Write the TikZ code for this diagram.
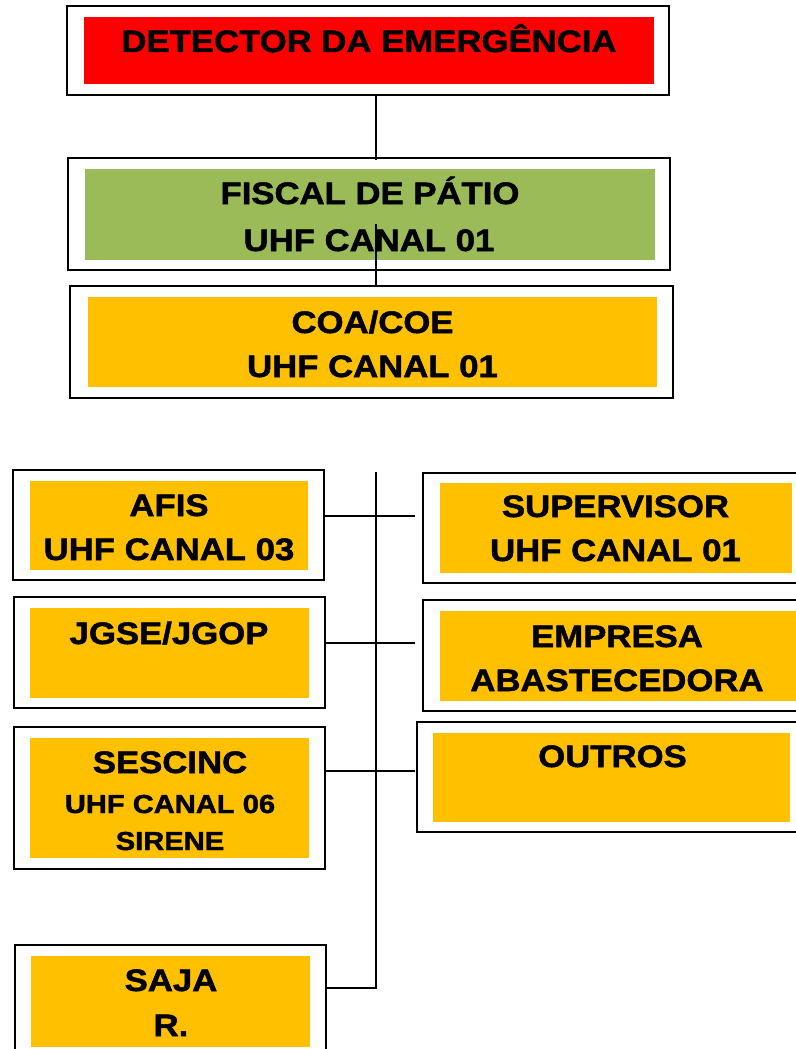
\documentclass[tikz,border=0pt]{standalone}
\usepackage{fontspec}
\newfontfamily\boxfont[FakeStretch=1.12,FakeBold=1.6]{Liberation Sans}
\definecolor{vermelho}{HTML}{FF0000}
\definecolor{verde}{HTML}{9BBB59}
\definecolor{amarelo}{HTML}{FFC000}

\tikzset{
	moldura/.style={draw, line width=2pt, fill=white, inner sep=0pt},
	fundo/.style={inner sep=0pt},
	rotulo/.style={anchor=base, inner sep=0pt, font=\boxfont\bfseries\fontsize{31}{36}\selectfont},
	menor/.style={rotulo, font=\boxfont\bfseries\fontsize{26}{30}\selectfont},
	ligacao/.style={line width=1.8pt},
}

\begin{document}
\begin{tikzpicture}[x=1pt, y=-1pt]
	\useasboundingbox (0,0) rectangle (795,1049);
	% topo
	\node[moldura, minimum width=602pt, minimum height=89pt] (detector) at (368,50.5) {};
	\node[fundo, fill=vermelho, minimum width=570pt, minimum height=67pt] (detectorfundo) at (369,50.5) {};
	\node[rotulo] (detectortexto) at (369,52) {DETECTOR DA EMERGÊNCIA};
	\node[moldura, minimum width=602pt, minimum height=112pt] (fiscal) at (369,214) {};
	\node[fundo, fill=verde, minimum width=570pt, minimum height=91pt] (fiscalfundo) at (370,214.5) {};
	\node[rotulo] (fiscaltexto) at (370,204) {FISCAL DE PÁTIO};
	\node[rotulo] (fiscalcanal) at (369,251) {UHF CANAL 01};
	\node[moldura, minimum width=603pt, minimum height=112pt] (coa) at (371.5,342) {};
	\node[fundo, fill=amarelo, minimum width=569pt, minimum height=90pt] (coafundo) at (372.5,342) {};
	\node[rotulo] (coatexto) at (372.5,333) {COA/COE};
	\node[rotulo] (coacanal) at (372.5,377) {UHF CANAL 01};
	% lado esquerdo
	\node[moldura, minimum width=311pt, minimum height=110pt] (afis) at (168.5,525) {};
	\node[fundo, fill=amarelo, minimum width=278pt, minimum height=89pt] (afisfundo) at (169,525.5) {};
	\node[rotulo] (afistexto) at (169,516) {AFIS};
	\node[rotulo] (afiscanal) at (169,560) {UHF CANAL 03};
	\node[moldura, minimum width=311pt, minimum height=111pt] (jgse) at (169.5,652.5) {};
	\node[fundo, fill=amarelo, minimum width=279pt, minimum height=90pt] (jgsefundo) at (169.5,653) {};
	\node[rotulo] (jgsetexto) at (169,644) {JGSE/JGOP};
	\node[moldura, minimum width=311pt, minimum height=142pt] (sescinc) at (169.5,798) {};
	\node[fundo, fill=amarelo, minimum width=279pt, minimum height=120pt] (sescincfundo) at (169.5,798) {};
	\node[rotulo] (sescinctexto) at (170,773) {SESCINC};
	\node[menor] (sescinccanal) at (170,813) {UHF CANAL 06};
	\node[menor] (sescincsirene) at (170,850) {SIRENE};
	\node[moldura, minimum width=311pt, minimum height=120pt] (saja) at (170.5,1005) {};
	\node[fundo, fill=amarelo, minimum width=279pt, minimum height=91pt] (sajafundo) at (170.5,1001.5) {};
	\node[rotulo] (sajatexto) at (171,991) {SAJA};
	\node[rotulo] (sajar) at (171,1036) {R.};
	% lado direito
	\node[moldura, minimum width=382pt, minimum height=110pt] (supervisor) at (614,528) {};
	\node[fundo, fill=amarelo, minimum width=352pt, minimum height=90pt] (supervisorfundo) at (616,528) {};
	\node[rotulo] (supervisortexto) at (615.5,517) {SUPERVISOR};
	\node[rotulo] (supervisorcanal) at (615.5,561) {UHF CANAL 01};
	\node[moldura, minimum width=382pt, minimum height=111pt] (empresa) at (614,655.5) {};
	\node[fundo, fill=amarelo, minimum width=360pt, minimum height=90pt] (empresafundo) at (620,656) {};
	\node[rotulo] (empresatexto) at (617,647) {EMPRESA};
	\node[rotulo] (empresaabast) at (617,691) {ABASTECEDORA};
	\node[moldura, minimum width=388pt, minimum height=110pt] (outros) at (611,777) {};
	\node[fundo, fill=amarelo, minimum width=357pt, minimum height=89pt] (outrosfundo) at (611.5,777.5) {};
	\node[rotulo] (outrostexto) at (612.5,767) {OUTROS};
	% ligacoes
	\coordinate (eixotopo) at (376,472);
	\coordinate (eixobase) at (376,988);
	\coordinate (eixofiscal) at (376,224);
	\coordinate (r1) at (415,516);
	\coordinate (r2) at (415,643);
	\coordinate (r3) at (415,771);
	\draw[ligacao] (detector.south -| eixotopo) -- ([yshift=-3pt]fiscal.north -| eixotopo);
	\draw[ligacao] (eixofiscal) -- (coa.north -| eixofiscal);
	\draw[ligacao] (eixotopo) -- (eixobase) -- (saja.east |- eixobase);
	\draw[ligacao] (afis.east |- r1) -- (r1);
	\draw[ligacao] (jgse.east |- r2) -- (r2);
	\draw[ligacao] (sescinc.east |- r3) -- (r3);
\end{tikzpicture}
\end{document}
